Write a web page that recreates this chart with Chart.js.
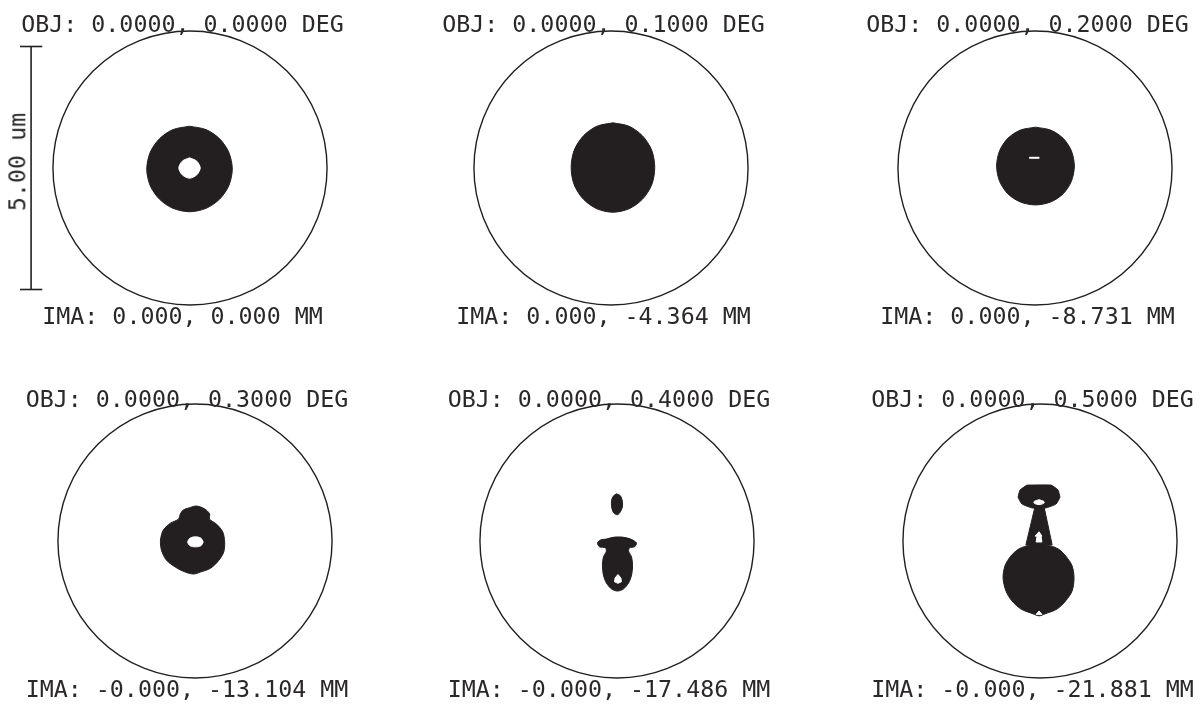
<!DOCTYPE html>
<html>
<head>
<meta charset="utf-8">
<script src="https://cdn.jsdelivr.net/npm/chart.js@4.4.1/dist/chart.umd.min.js"></script>
<style>
  html, body { margin: 0; padding: 0; background: #fff; }
  #page { position: relative; width: 1200px; height: 704px; overflow: hidden; background: #fff; }
  #page canvas { position: absolute; }
  .lbl {
    position: absolute; width: 400px; text-align: center;
    font-family: 'DejaVu Sans Mono', monospace; font-size: 23.3px; line-height: 1;
    color: #2b2829; white-space: pre;
  }
  .bar-lbl { width: auto; transform: translate(-50%, -50%) rotate(-90deg); }
</style>
</head>
<body>
<div id="page"></div>
<script>
// field labels
const objLabels = [
  'OBJ: 0.0000, 0.0000 DEG', 'OBJ: 0.0000, 0.1000 DEG', 'OBJ: 0.0000, 0.2000 DEG',
  'OBJ: 0.0000, 0.3000 DEG', 'OBJ: 0.0000, 0.4000 DEG', 'OBJ: 0.0000, 0.5000 DEG'
];
const imaLabels = [
  'IMA: 0.000, 0.000 MM', 'IMA: 0.000, -4.364 MM', 'IMA: 0.000, -8.731 MM',
  'IMA: -0.000, -13.104 MM', 'IMA: -0.000, -17.486 MM', 'IMA: -0.000, -21.881 MM'
];

// micrometres, relative to the chief ray
const airyRadius = 2.82;
const scaleBarLength = 5.00;
const scaleBarLabel = '5.00 um';

// spot outlines, [x, y] in um
const spot1Outer = [[-0.01,0.86],[0.33,0.79],[0.61,0.60],[0.80,0.32],[0.87,-0.02],[0.80,-0.36],[0.61,-0.64],[0.33,-0.83],
  [-0.01,-0.90],[-0.35,-0.83],[-0.63,-0.64],[-0.82,-0.36],[-0.89,-0.02],[-0.82,0.32],[-0.63,0.60],[-0.35,0.79]];
const spot1Hole = [[-0.01,0.21],[0.14,0.14],[0.21,0],[0.14,-0.14],[-0.01,-0.21],[-0.16,-0.14],[-0.23,0],[-0.16,0.14]];

const spot2Outer = [[0.04,0.93],[0.37,0.86],[0.65,0.66],[0.84,0.36],[0.90,0.01],[0.84,-0.34],[0.65,-0.64],[0.37,-0.84],
  [0.04,-0.91],[-0.29,-0.84],[-0.57,-0.64],[-0.76,-0.34],[-0.82,0.01],[-0.76,0.36],[-0.57,0.66],[-0.29,0.86]];

const spot3Outer = [[0.01,0.84],[0.32,0.78],[0.58,0.61],[0.75,0.35],[0.81,0.04],[0.75,-0.27],[0.58,-0.53],[0.32,-0.70],
  [0.01,-0.76],[-0.30,-0.70],[-0.56,-0.53],[-0.73,-0.27],[-0.79,0.04],[-0.73,0.35],[-0.56,0.61],[-0.30,0.78]];
const spot3Gap = [[-0.12,0.21],[0.09,0.21]];

const spot4Outer = [[-0.13,0.68],[0.03,0.72],[0.20,0.66],[0.30,0.56],[0.30,0.45],[0.44,0.35],[0.57,0.19],[0.61,-0.02],
  [0.59,-0.23],[0.48,-0.41],[0.32,-0.56],[0.11,-0.64],[-0.03,-0.68],[-0.20,-0.64],[-0.40,-0.54],[-0.59,-0.39],
  [-0.69,-0.19],[-0.71,0.02],[-0.65,0.23],[-0.50,0.37],[-0.34,0.45],[-0.30,0.56],[-0.24,0.64]];
const spot4Hole = [[0.17,-0.02],[0.12,0.06],[0.01,0.085],[-0.10,0.06],[-0.15,-0.02],[-0.10,-0.10],[0.01,-0.12],[0.12,-0.10]];

const spot5Upper = [[-0.01,0.97],[0.07,0.93],[0.11,0.82],[0.11,0.70],[0.07,0.60],[0.01,0.54],[-0.07,0.58],[-0.11,0.70],
  [-0.11,0.84],[-0.07,0.93]];
const spot5Lower = [[-0.22,0.04],[-0.05,0.08],[0.11,0.08],[0.28,0.04],[0.40,-0.04],[0.36,-0.12],[0.26,-0.14],[0.24,-0.21],
  [0.30,-0.33],[0.32,-0.51],[0.30,-0.70],[0.24,-0.86],[0.13,-0.99],[0.01,-1.03],[-0.11,-0.99],[-0.22,-0.86],
  [-0.28,-0.70],[-0.30,-0.51],[-0.28,-0.33],[-0.22,-0.21],[-0.24,-0.14],[-0.36,-0.12],[-0.40,-0.04],[-0.34,0.02]];
const spot5Hole = [[0.02,-0.69],[0.08,-0.76],[0.09,-0.84],[0.02,-0.87],[-0.05,-0.84],[-0.04,-0.76]];

const spot6Head = [[-0.27,1.15],[0.23,1.15],[0.37,1.05],[0.41,0.90],[0.33,0.76],[0.12,0.68],[-0.16,0.68],[-0.37,0.76],
  [-0.45,0.90],[-0.41,1.05]];
const spot6HeadHole = [[-0.02,0.85],[0.07,0.82],[0.09,0.80],[0.07,0.77],[-0.02,0.75],[-0.11,0.77],[-0.13,0.80],[-0.11,0.82]];
const spot6Neck = [[-0.10,0.72],[0.08,0.72],[0.25,-0.08],[-0.29,-0.08]];
const spot6NeckHole = [[-0.02,0.19],[0.04,0.10],[0.02,0.10],[0.04,-0.02],[-0.08,-0.02],[-0.06,0.10],[-0.10,0.10]];
const spot6Body = [[-0.21,-0.08],[0.12,-0.08],[0.37,-0.16],[0.53,-0.31],[0.66,-0.51],[0.70,-0.76],[0.66,-1.03],[0.53,-1.23],
  [0.35,-1.40],[0.10,-1.50],[-0.02,-1.54],[-0.14,-1.50],[-0.39,-1.40],[-0.58,-1.23],[-0.70,-1.03],[-0.76,-0.76],
  [-0.72,-0.51],[-0.60,-0.31],[-0.43,-0.16]];
const spot6BodyNotch = [[-0.08,-1.51],[-0.02,-1.44],[0.04,-1.51]];

// page layout: circle centres in px, and size of each plot canvas
const pxPerUm = 48.6;
const plotW = 340, plotH = 300;
const centres = [[190,168],[611,168],[1035,168],[194.5,541],[616.5,541],[1040,541]];
const ink = '#231f20';

// outlines that keep straight edges
const angular = new Set([spot6Neck, spot6NeckHole, spot6BodyNotch, spot5Hole]);
const softCorners = new Set([spot6Head]);

const panels = [
  { solid: [spot1Outer], holes: [spot1Hole], gaps: [] },
  { solid: [spot2Outer], holes: [], gaps: [] },
  { solid: [spot3Outer], holes: [], gaps: [spot3Gap] },
  { solid: [spot4Outer], holes: [spot4Hole], gaps: [] },
  { solid: [spot5Upper, spot5Lower], holes: [spot5Hole], gaps: [] },
  { solid: [spot6Head, spot6Neck, spot6Body], holes: [spot6HeadHole, spot6NeckHole, spot6BodyNotch], gaps: [] }
];

const toXY = pts => pts.map(([x, y]) => ({ x, y }));
const closed = pts => toXY(pts.concat([pts[0]]));

function shapeSet(pts, color, order) {
  const tension = angular.has(pts) ? 0 : softCorners.has(pts) ? 0.12 : 0.3;
  return {
    type: 'line', data: closed(pts), order,
    borderColor: color, backgroundColor: color, borderWidth: 1,
    fill: 'shape', tension, pointRadius: 0
  };
}

const page = document.getElementById('page');

function addLabel(text, cx, cy) {
  const d = document.createElement('div');
  d.className = 'lbl';
  d.textContent = text;
  d.style.left = (cx - 200) + 'px';
  d.style.top = (cy - 11.2) + 'px';
  page.appendChild(d);
}

panels.forEach((p, i) => {
  const [cx, cy] = centres[i];
  const canvas = document.createElement('canvas');
  canvas.width = plotW;
  canvas.height = plotH;
  canvas.style.left = (cx - plotW / 2) + 'px';
  canvas.style.top = (cy - plotH / 2) + 'px';
  page.appendChild(canvas);

  const datasets = [];
  // airy disk
  datasets.push({
    type: 'line', data: [{ x: 0, y: 0 }], order: 3, showLine: false,
    pointRadius: c => {
      const s = c.chart.scales.x;
      return Math.abs(s.getPixelForValue(airyRadius) - s.getPixelForValue(0));
    },
    pointBackgroundColor: 'rgba(0,0,0,0)', pointBorderColor: ink, pointBorderWidth: 1.4
  });
  p.solid.forEach(s => datasets.push(shapeSet(s, ink, 2)));
  p.holes.forEach(s => datasets.push(shapeSet(s, '#ffffff', 1)));
  p.gaps.forEach(s => datasets.push({
    type: 'line', data: toXY(s), order: 0, borderColor: '#ffffff', borderWidth: 2, pointRadius: 0, fill: false
  }));

  if (i === 0) {
    // scale bar on the first plot
    const bx = -3.27, tick = 0.23, half = scaleBarLength / 2;
    const bar = pts => ({ type: 'line', data: toXY(pts), order: 0, borderColor: ink, borderWidth: 1.6, pointRadius: 0, fill: false });
    datasets.push(bar([[bx, -half], [bx, half]]));
    datasets.push(bar([[bx - tick, half], [bx + tick, half]]));
    datasets.push(bar([[bx - tick, -half], [bx + tick, -half]]));
  }

  const hx = plotW / 2 / pxPerUm, hy = plotH / 2 / pxPerUm;
  new Chart(canvas, {
    type: 'line',
    data: { datasets },
    options: {
      responsive: false,
      animation: false,
      events: [],
      layout: { padding: 0 },
      plugins: { legend: { display: false }, tooltip: { enabled: false } },
      scales: {
        x: { type: 'linear', min: -hx, max: hx, display: false },
        y: { type: 'linear', min: -hy, max: hy, display: false }
      }
    }
  });

  const labelTop = i < 3 ? 23.5 : 398.5;
  const labelBottom = i < 3 ? 315 : 688.5;
  addLabel(objLabels[i], cx - 7.5, labelTop);
  addLabel(imaLabels[i], cx - 7.5, labelBottom);
});

const barText = document.createElement('div');
barText.className = 'lbl bar-lbl';
barText.textContent = scaleBarLabel;
barText.style.left = '16.7px';
barText.style.top = '162px';
page.appendChild(barText);
</script>
</body>
</html>
